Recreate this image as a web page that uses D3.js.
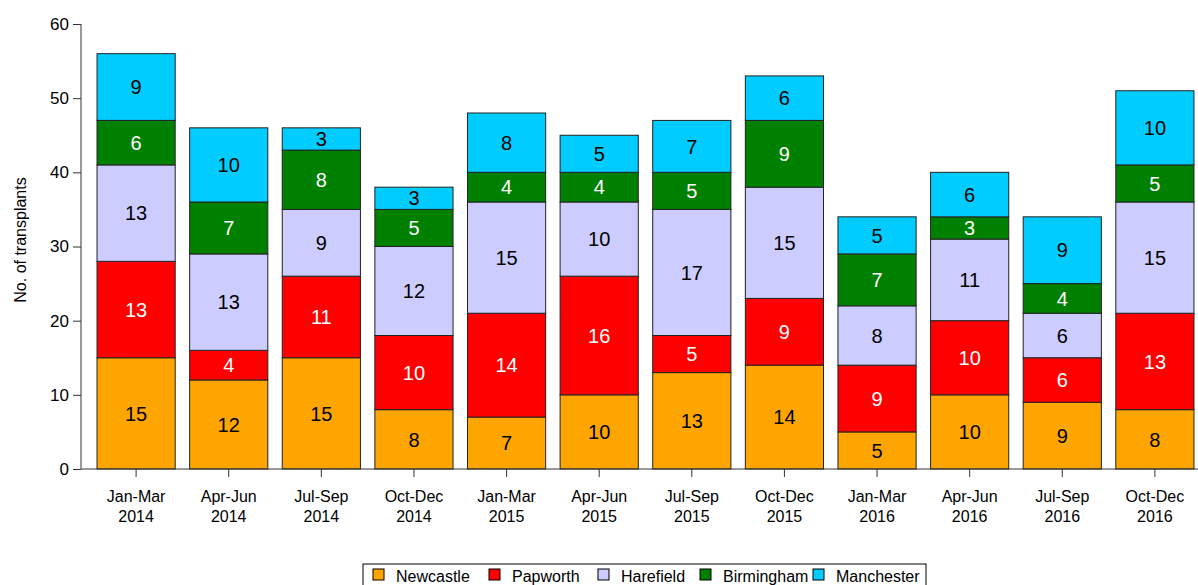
<!DOCTYPE html>
<html>
<head>
<meta charset="utf-8">
<script src="https://cdn.jsdelivr.net/npm/d3@7"></script>
<style>
  body { margin: 0; background: #fff; }
  svg { font-family: "Liberation Sans", Arial, sans-serif; }
  .axis path, .axis line { stroke: #333; }
  .axis text { fill: #000; }
</style>
</head>
<body>
<div id="chart"></div>
<script>
var periods = ["Jan-Mar", "Apr-Jun", "Jul-Sep", "Oct-Dec", "Jan-Mar", "Apr-Jun", "Jul-Sep", "Oct-Dec", "Jan-Mar", "Apr-Jun", "Jul-Sep", "Oct-Dec"];
var years = ["2014", "2014", "2014", "2014", "2015", "2015", "2015", "2015", "2016", "2016", "2016", "2016"];
var centres = ["Newcastle", "Papworth", "Harefield", "Birmingham", "Manchester"];
var newcastle = [15, 12, 15, 8, 7, 10, 13, 14, 5, 10, 9, 8];
var papworth = [13, 4, 11, 10, 14, 16, 5, 9, 9, 10, 6, 13];
var harefield = [13, 13, 9, 12, 15, 10, 17, 15, 8, 11, 6, 15];
var birmingham = [6, 7, 8, 5, 4, 4, 5, 9, 7, 3, 4, 5];
var manchester = [9, 10, 3, 3, 8, 5, 7, 6, 5, 6, 9, 10];
var yTicks = [0, 10, 20, 30, 40, 50, 60];

var colors = ["#FFA500", "#FF0000", "#CCCCFF", "#008000", "#00CCFF"];
var textColors = ["#000", "#fff", "#000", "#fff", "#000"];
var series = [newcastle, papworth, harefield, birmingham, manchester];

var W = 1198, H = 585;
var margin = {top: 24, left: 81, bottom: 116};

var svg = d3.select("#chart").append("svg").attr("width", W).attr("height", H);

var data = periods.map(function(p, i) {
  var row = {key: i};
  centres.forEach(function(c, j) { row[c] = series[j][i]; });
  return row;
});
var stacked = d3.stack().keys(centres)(data);

var x = d3.scaleBand().domain(d3.range(periods.length)).range([97 - 7.2, 1194 + 7.2]).paddingInner(0.156).paddingOuter(0.078);
var y = d3.scaleLinear().domain([0, 60]).range([H - margin.bottom, margin.top]);

var g = svg.append("g");

stacked.forEach(function(layer, j) {
  var lg = g.append("g");
  lg.selectAll("rect").data(layer).enter().append("rect")
    .attr("x", function(d, i) { return x(i); })
    .attr("y", function(d) { return y(d[1]); })
    .attr("width", x.bandwidth())
    .attr("height", function(d) { return y(d[0]) - y(d[1]); })
    .attr("fill", colors[j])
    .attr("stroke", "#222")
    .attr("stroke-width", 1);
  lg.selectAll("text").data(layer).enter().append("text")
    .attr("x", function(d, i) { return x(i) + x.bandwidth() / 2; })
    .attr("y", function(d) { return (y(d[0]) + y(d[1])) / 2; })
    .attr("dy", "0.36em")
    .attr("text-anchor", "middle")
    .attr("font-size", 20)
    .attr("fill", textColors[j])
    .text(function(d) { return d[1] - d[0]; });
});

// y axis
var yAxis = svg.append("g").attr("class", "axis")
  .attr("transform", "translate(" + margin.left + ",0)")
  .call(d3.axisLeft(y).tickValues(yTicks).tickSize(8).tickPadding(4));
yAxis.selectAll("text").attr("font-size", 17);
yAxis.select(".domain").attr("d", "M0," + y(60) + "V" + y(0));

// x axis
var xAxis = svg.append("g").attr("class", "axis")
  .attr("transform", "translate(0," + y(0) + ")")
  .call(d3.axisBottom(x).tickSize(8).tickFormat(""));
xAxis.select(".domain").attr("d", "M" + margin.left + ",0H" + W);
xAxis.selectAll(".tick").each(function(d) {
  var t = d3.select(this).append("text")
    .attr("fill", "#000").attr("font-size", 16).attr("text-anchor", "middle");
  t.append("tspan").attr("x", 0).attr("y", 33).text(periods[d]);
  t.append("tspan").attr("x", 0).attr("y", 53).text(years[d]);
});

// y title
svg.append("text")
  .attr("transform", "translate(26,240) rotate(-90)")
  .attr("text-anchor", "middle")
  .attr("font-size", 16)
  .text("No. of transplants");

// legend
var legend = svg.append("g").attr("transform", "translate(363,564)");
legend.append("rect").attr("x", 0).attr("y", 0).attr("width", 563).attr("height", 30)
  .attr("fill", "#fff").attr("stroke", "#000");
var legX = [10, 126, 235, 337, 450];
centres.forEach(function(c, j) {
  var it = legend.append("g").attr("transform", "translate(" + legX[j] + ",0)");
  it.append("rect").attr("x", 0).attr("y", 5).attr("width", 11).attr("height", 11)
    .attr("fill", colors[j]).attr("stroke", "#000");
  it.append("text").attr("x", 23).attr("y", 18).attr("font-size", 16).text(c);
});
</script>
</body>
</html>
